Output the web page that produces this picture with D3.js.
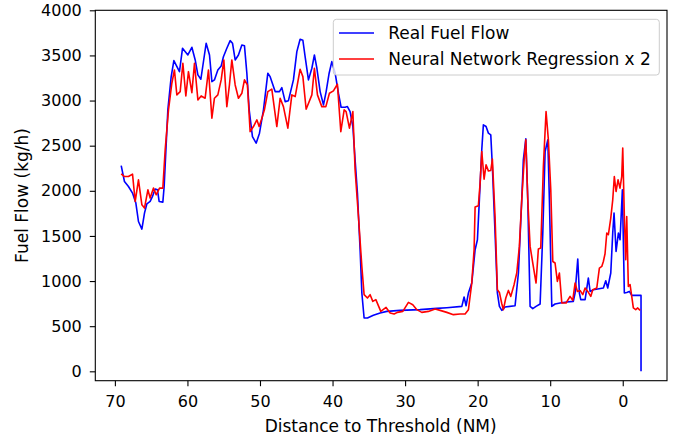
<!DOCTYPE html>
<html><head><meta charset="utf-8">
<script src="https://cdn.jsdelivr.net/npm/d3@7"></script>
<style>body{margin:0;background:#fff}svg{display:block}</style>
</head><body>
<svg id="c" width="677" height="438"></svg>
<script>
const realDist = [69.13,68.68,68.13,67.57,67.11,66.75,66.28,65.92,65.59,65.14,64.82,64.45,64.13,63.90,63.39,63.21,62.70,62.24,61.87,61.10,60.68,59.94,59.39,58.93,58.56,58.15,57.42,56.96,56.63,56.28,55.81,55.35,55.04,54.57,54.11,53.79,53.42,52.97,52.50,52.14,51.81,51.49,51.04,50.53,50.07,49.52,48.92,48.60,47.91,47.32,46.99,46.53,46.08,45.39,44.92,44.47,44.09,43.78,43.32,42.85,42.50,42.16,41.71,41.25,40.88,40.47,40.10,39.64,39.19,38.82,38.26,37.95,37.58,37.20,36.89,36.57,36.20,35.96,35.65,35.19,34.37,33.44,32.52,30.69,27.93,25.63,24.25,22.18,21.87,21.59,21.27,20.81,20.35,20.03,19.76,19.43,19.21,18.84,18.52,18.19,17.97,17.60,17.28,17.00,16.67,16.22,14.84,14.38,13.92,13.70,13.36,13.09,12.77,12.40,11.95,11.39,11.02,10.70,10.33,10.11,9.78,9.33,8.64,7.71,6.81,6.57,6.20,5.98,5.79,5.19,4.74,4.50,4.05,2.67,2.34,2.07,1.65,1.38,1.20,0.92,0.60,0.37,0.05,-0.22,-0.55,-0.91,-1.24,-1.93,-2.52,-2.52];
const realFlow = [2280,2103,2048,1975,1864,1660,1576,1753,1856,1882,1937,2019,2011,1882,1875,2048,2897,3265,3442,3320,3579,3505,3590,3450,3284,3236,3635,3505,3210,3229,3339,3384,3486,3579,3664,3635,3450,3505,3616,3608,3303,2897,2601,2528,2639,2897,3303,3265,3099,3099,3143,2988,2999,3229,3542,3679,3668,3486,3229,3358,3505,3358,3099,2952,3099,3303,3431,3303,3081,2926,2926,2933,2878,2712,2343,1975,1347,868,591,591,620,646,664,675,683,697,705,719,823,727,868,978,1347,1458,1900,2454,2730,2712,2639,2620,2269,1532,868,719,675,713,727,1089,1900,2343,2576,1900,719,694,719,746,1532,2435,2565,1900,719,746,757,768,775,868,1244,868,794,794,1034,885,904,923,1004,923,1089,1532,1753,1328,1532,1458,2011,868,874,885,841,841,841,0];
const nnDist = [69.13,68.68,68.13,67.57,67.20,66.75,66.28,65.92,65.45,65.14,64.68,64.31,63.85,63.39,63.07,62.61,62.15,61.79,61.46,61.00,60.63,60.22,59.86,59.39,59.03,58.56,58.11,57.56,57.10,56.63,56.28,55.81,55.35,54.98,54.57,54.21,53.88,53.42,52.97,52.50,52.14,51.73,51.36,50.90,50.43,50.12,49.74,49.39,48.92,48.37,47.68,47.22,46.77,46.16,45.61,45.15,44.47,44.09,43.64,42.85,42.50,42.08,41.48,40.92,40.43,39.88,39.33,38.86,38.40,38.13,37.67,37.20,36.89,36.43,35.96,35.65,35.19,34.82,34.45,34.03,33.35,32.62,32.06,31.51,31.06,30.31,29.54,28.94,28.38,27.70,26.79,25.86,25.17,24.25,23.34,22.42,21.73,21.27,20.81,20.49,20.35,19.90,19.66,19.43,19.11,18.84,18.52,18.19,17.97,17.60,17.28,17.00,16.67,16.45,16.12,15.76,15.43,14.98,14.61,14.25,13.92,13.60,13.36,13.09,12.77,12.40,11.95,11.63,11.30,10.94,10.57,10.25,9.92,9.64,9.33,9.01,8.73,8.40,7.81,7.26,6.89,6.57,6.25,5.88,5.51,5.19,4.82,4.41,4.13,3.58,3.22,2.89,2.67,2.44,2.20,1.98,1.65,1.38,1.16,0.92,0.65,0.38,0.14,0.00,-0.22,-0.41,-0.55,-0.77,-1.01,-1.24,-1.46,-1.79,-2.07,-2.39];
const nnFlow = [2188,2158,2158,2185,1882,2122,1845,1809,2011,1919,2030,1956,2030,2030,2454,2897,3192,3339,3063,3099,3413,3051,3320,3088,3413,3007,3051,3026,3339,2805,3026,3063,3229,3450,2933,3173,3450,3173,3026,3081,3229,3173,2656,2712,2786,2712,2805,2897,3099,3126,2712,3026,2933,2694,3063,3044,3347,3265,2904,3063,3358,3063,2933,2933,3081,3107,3181,2656,2897,2878,2694,2878,2232,1716,1162,849,812,849,775,794,664,708,646,635,653,664,764,738,683,653,664,691,675,653,628,635,635,683,978,1347,1820,1834,2085,2435,2129,2288,2221,2225,2351,1716,904,874,749,683,812,896,830,960,1089,1384,1900,2324,2565,1900,1384,1200,978,1355,1366,2269,2878,2565,2011,1217,1200,996,1089,757,757,830,786,978,885,896,849,923,885,830,904,923,1144,1162,1217,1303,1532,1513,1698,1900,2158,1992,2122,2030,2158,2473,1716,1236,1716,941,960,830,702,683,702,675];
const xTicks = [70,60,50,40,30,20,10,0];
const yTicks = [0,500,1000,1500,2000,2500,3000,3500,4000];
const seriesNames = ["Real Fuel Flow","Neural Network Regression x 2"];
const xTitle = "Distance to Threshold (NM)";
const yTitle = "Fuel Flow (kg/h)";

const font = "'DejaVu Sans', sans-serif";
const svg = d3.select("#c");
const L = 95.3, R = 667, T = 10.3, B = 380.7;
const x = d3.scaleLinear().domain([72.7, -6.1]).range([L, R]);
const y = d3.scaleLinear().domain([-104, 4000]).range([B, T]);

const line = d3.line().x(d => x(d[0])).y(d => y(d[1]));
const real = realDist.map((d,i) => [d, realFlow[i]]);
const nn = nnDist.map((d,i) => [d, nnFlow[i]]);

const g = svg.append("g");
g.append("path").datum(real).attr("d", line).attr("fill","none").attr("stroke","#0000ff").attr("stroke-width",1.6).attr("stroke-linejoin","round");
g.append("path").datum(nn).attr("d", line).attr("fill","none").attr("stroke","#ff0000").attr("stroke-width",1.6).attr("stroke-linejoin","round");

// frame
svg.append("rect").attr("x",L).attr("y",T).attr("width",R-L).attr("height",B-T).attr("fill","none").attr("stroke","#000").attr("stroke-width",1.1);

const xa = svg.append("g").attr("transform",`translate(0,${B})`)
  .call(d3.axisBottom(x).tickValues(xTicks).tickFormat(d3.format("d")).tickSize(5.5).tickSizeOuter(0).tickPadding(6));
const ya = svg.append("g").attr("transform",`translate(${L},0)`)
  .call(d3.axisLeft(y).tickValues(yTicks).tickFormat(d3.format("d")).tickSize(5.5).tickSizeOuter(0).tickPadding(8));
[xa,ya].forEach(a => {
  a.select(".domain").remove();
  a.selectAll("line").attr("stroke","#000").attr("stroke-width",1.1);
  a.selectAll("text").attr("font-family",font).attr("font-size",16).attr("fill","#000");
});
xa.selectAll("text").attr("dy","0.95em");

svg.append("text").attr("x",(L+R)/2 - 0.5).attr("y",432).attr("text-anchor","middle")
  .attr("font-family",font).attr("font-size",17).text(xTitle);
svg.append("text").attr("transform",`translate(28,${(T+B)/2}) rotate(-90)`).attr("text-anchor","middle")
  .attr("font-family",font).attr("font-size",17).text(yTitle);

// legend
const lg = svg.append("g");
lg.append("rect").attr("x",333.3).attr("y",19.3).attr("width",326).attr("height",55.7).attr("rx",3)
  .attr("fill","#fff").attr("fill-opacity",0.8).attr("stroke","#cccccc").attr("stroke-width",1);
const colors = ["#0000ff","#ff0000"];
seriesNames.forEach((n,i) => {
  const yy = 33 + i*26;
  lg.append("line").attr("x1",339).attr("x2",374).attr("y1",yy).attr("y2",yy).attr("stroke",colors[i]).attr("stroke-width",1.6);
  lg.append("text").attr("x",388.3).attr("y",yy+6).attr("font-family",font).attr("font-size",17).text(n);
});
</script>
</body></html>
